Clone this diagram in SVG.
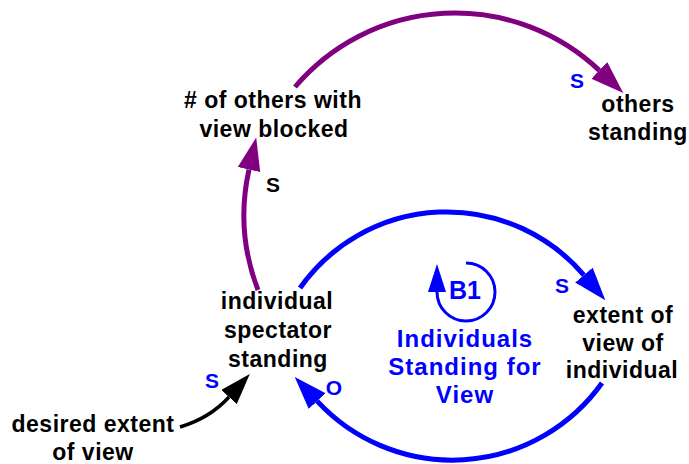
<svg xmlns="http://www.w3.org/2000/svg" width="689" height="464" viewBox="0 0 689 464">
<style>
.lbl{font-family:"Liberation Sans",Arial,sans-serif;font-weight:bold;font-size:23px;letter-spacing:0.5px;fill:#000;text-anchor:middle}
.loop{font-family:"Liberation Sans",Arial,sans-serif;font-weight:bold;font-size:24px;letter-spacing:1px;fill:#0000FF;text-anchor:middle}
.pol{font-family:"Liberation Sans",Arial,sans-serif;font-weight:bold;font-size:21px;text-anchor:middle}
.blue{fill:#0000FF}
.blk{fill:#000}
.c{fill:none;stroke-linecap:butt}
</style>
<defs>
<marker id="ahP" markerUnits="userSpaceOnUse" markerWidth="34" markerHeight="24" refX="0" refY="11.5" orient="auto" viewBox="0 0 34 23"><path d="M0,0 L33,11.5 L0,23 Z" fill="#800080"/></marker>
<marker id="ahB" markerUnits="userSpaceOnUse" markerWidth="34" markerHeight="24" refX="0" refY="11.5" orient="auto" viewBox="0 0 34 23"><path d="M0,0 L33,11.5 L0,23 Z" fill="#0000FF"/></marker>
<marker id="ahK" markerUnits="userSpaceOnUse" markerWidth="32" markerHeight="22" refX="0" refY="10.5" orient="auto" viewBox="0 0 32 21"><path d="M0,0 L31,10.5 L0,21 Z" fill="#000"/></marker>
<marker id="ahL" markerUnits="userSpaceOnUse" markerWidth="29" markerHeight="19" refX="0" refY="9" orient="auto" viewBox="0 0 29 18"><path d="M0,0 L28,9 L0,18 Z" fill="#0000FF"/></marker>
</defs>
<g id="connectors">
<path class="c" d="M295,87 A210,210 0 0 1 599.3,70.4" stroke="#800080" stroke-width="5" marker-end="url(#ahP)"/>
<path class="c" d="M258,290 A208,208 0 0 1 249,169.6" stroke="#800080" stroke-width="5" marker-end="url(#ahP)"/>
<path class="c" d="M300,288 A180,180 0 0 1 583.9,275.1" stroke="#0000FF" stroke-width="5" marker-end="url(#ahB)"/>
<path class="c" d="M602,383 A184,184 0 0 1 317.2,401.1" stroke="#0000FF" stroke-width="5" marker-end="url(#ahB)"/>
<path class="c" d="M180,427 Q210,418 229,397" stroke="#000" stroke-width="3.5" marker-end="url(#ahK)"/>
<text class="pol blue" x="577" y="88">S</text>
<text class="pol blk" x="273" y="192">S</text>
<text class="pol blue" x="562" y="293">S</text>
<text class="pol blue" x="212" y="388">S</text>
<text class="pol blue" x="334" y="395">O</text>
</g>
<g id="loop-B1">
<path class="c" d="M466,263 A29,29 0 1 1 437,292" stroke="#0000FF" stroke-width="3" marker-end="url(#ahL)"/>
<text class="loop" x="465" y="299" style="font-size:25px;letter-spacing:0">B1</text>
<text class="loop" x="465" y="347">Individuals</text>
<text class="loop" x="465" y="375">Standing for</text>
<text class="loop" x="465" y="403">View</text>
</g>
<g id="node-others-blocked">
<text class="lbl" x="273" y="108"># of others with</text>
<text class="lbl" x="274" y="137">view blocked</text>
</g>
<g id="node-others-standing">
<text class="lbl" x="638" y="112">others</text>
<text class="lbl" x="638" y="140">standing</text>
</g>
<g id="node-individual-standing">
<text class="lbl" x="277" y="309">individual</text>
<text class="lbl" x="278" y="338">spectator</text>
<text class="lbl" x="278" y="367">standing</text>
</g>
<g id="node-extent-of-view">
<text class="lbl" x="623" y="323">extent of</text>
<text class="lbl" x="623" y="351">view of</text>
<text class="lbl" x="622" y="378">individual</text>
</g>
<g id="node-desired-extent">
<text class="lbl" x="93" y="432">desired extent</text>
<text class="lbl" x="93" y="460">of view</text>
</g>
</svg>
